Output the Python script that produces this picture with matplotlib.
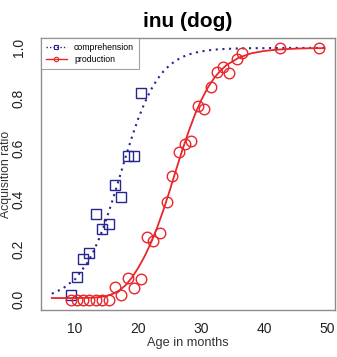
import matplotlib
matplotlib.use('Agg')
import matplotlib.pyplot as plt
from matplotlib.lines import Line2D

plt.rcParams['font.family'] = ['Liberation Sans', 'DejaVu Sans']

NAVY = '#26268e'
RED = '#e8262b'
GREY = '#8c8c8c'

# observed points
comp_age = [9.3, 10.3, 11.2, 12.2, 13.3, 14.3, 15.3, 16.3, 17.3, 18.3, 19.4, 20.5]
comp_ratio = [0.02, 0.09, 0.16, 0.185, 0.34, 0.28, 0.30, 0.455, 0.41, 0.57, 0.57, 0.82]

prod_age = [9.3, 10.3, 11.2, 12.2, 13.3, 14.3, 15.3, 16.3, 17.3, 18.4, 19.4, 20.4,
            21.4, 22.4, 23.5, 24.6, 25.4, 26.5, 27.4, 28.4, 29.4, 30.4, 31.5, 32.5,
            33.5, 34.4, 35.6, 36.5, 42.5, 48.6]
prod_ratio = [0.0, 0.0, 0.0, 0.0, 0.0, 0.0, 0.0, 0.05, 0.02, 0.087, 0.047, 0.082,
              0.25, 0.235, 0.265, 0.39, 0.49, 0.585, 0.62, 0.63, 0.77, 0.757, 0.846, 0.906,
              0.923, 0.90, 0.956, 0.98, 1.0, 1.0]

# fitted curves
curve_age = [6.3, 8, 10, 12, 13, 14, 15, 16, 17, 18, 19, 20, 21, 22, 23, 24, 25, 26, 27,
             28, 29, 30, 31, 32, 33, 34, 36, 38, 40, 42, 44, 46, 48, 49.5]
comp_curve = [0.024, 0.044, 0.082, 0.149, 0.197, 0.255, 0.324, 0.401, 0.483, 0.567, 0.646,
              0.719, 0.781, 0.833, 0.875, 0.907, 0.932, 0.950, 0.964, 0.974, 0.981, 0.986,
              0.990, 0.993, 0.995, 0.996, 0.998, 0.999, 0.999, 1.0, 1.0, 1.0, 1.0, 1.0]
prod_curve = [0.007, 0.007, 0.007, 0.008, 0.009, 0.011, 0.015, 0.024, 0.037, 0.058, 0.088,
              0.127, 0.172, 0.225, 0.287, 0.357, 0.434, 0.516, 0.595, 0.669, 0.736, 0.793,
              0.841, 0.879, 0.909, 0.932, 0.962, 0.979, 0.988, 0.993, 0.996, 0.998, 0.999, 0.999]

fig = plt.figure(figsize=(3.37, 3.57), dpi=100)
ax = fig.add_axes([0.122, 0.132, 0.872, 0.762])

ax.plot(curve_age, comp_curve, color=NAVY, lw=1.5, ls=(0, (1, 2.2)))
ax.plot(curve_age, prod_curve, color=RED, lw=1.3)
ax.plot(comp_age, comp_ratio, ls='none', marker='s', ms=7.2, mfc='none', mec=NAVY, mew=1.0)
ax.plot(prod_age, prod_ratio, ls='none', marker='o', ms=7.6, mfc='none', mec=RED, mew=1.0)

ax.set_xlim(4.6, 51.2)
ax.set_ylim(-0.04, 1.04)
ax.set_xticks([10, 20, 30, 40, 50])
ax.set_yticks([0.0, 0.2, 0.4, 0.6, 0.8, 1.0])
ax.set_yticklabels(['0.0', '0.2', '0.4', '0.6', '0.8', '1.0'], rotation=90, va='center')
ax.tick_params(axis='both', length=0, labelsize=10, colors='#222222')
ax.tick_params(axis='y', pad=11)
ax.tick_params(axis='x', pad=9)
for s in ax.spines.values():
    s.set_color(GREY)
    s.set_linewidth(1.0)

ax.set_title('inu (dog)', fontsize=15, fontweight='bold', pad=8)
ax.set_xlabel('Age in months', fontsize=9.2, color='#333333', va='center')
ax.xaxis.set_label_coords(0.5, -0.121)
fig.text(0.5 / 337, 1 - 174 / 357, 'Acquisition ratio', rotation=90, fontsize=8.8,
         color='#333333', ha='left', va='center')

handles = [
    Line2D([], [], color=NAVY, lw=1.0, ls=(0, (1, 1.5)), marker='s', ms=3.2, mfc='none', mew=0.8),
    Line2D([], [], color=RED, lw=1.0, marker='o', ms=3.2, mfc='none', mew=0.8),
]
leg = ax.legend(handles, ['comprehension', 'production'], loc='upper left', fontsize=6.3,
                borderaxespad=0, frameon=True, fancybox=False, handlelength=2.4,
                handletextpad=0.8, borderpad=0.55, labelspacing=0.35)
leg.get_frame().set_edgecolor(GREY)
leg.get_frame().set_linewidth(0.8)

fig.savefig('out.png', dpi=100)
